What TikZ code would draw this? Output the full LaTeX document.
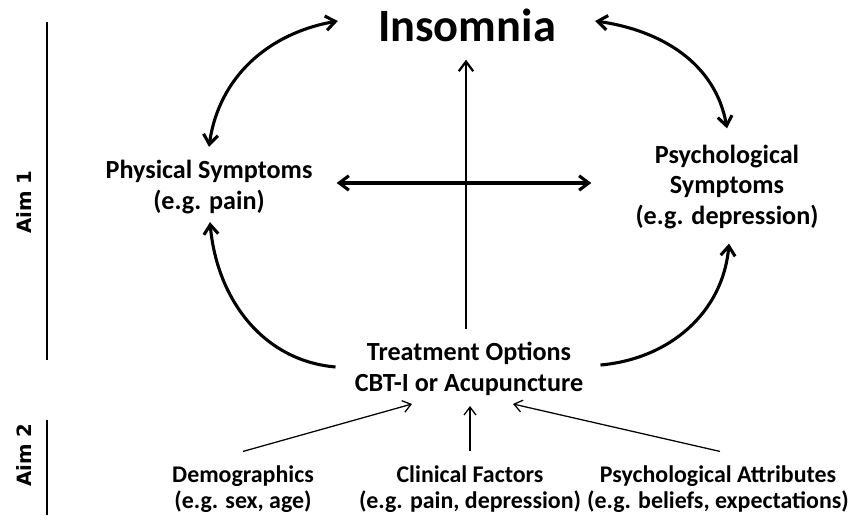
\documentclass[tikz,border=0pt]{standalone}
\usepackage{fontspec}
\setmainfont{Carlito}
\newfontfamily\aimfont{DejaVu Sans}
\usepackage{tikz}
\usetikzlibrary{
  arrows.meta,
  calc
}
\tikzset{
  title/.style={
    font=\bfseries\fontsize{33}{40}\selectfont,
    inner sep=0pt
  },
  concept/.style={
    font=\bfseries\fontsize{18.6}{22}\selectfont,
    align=center,
    inner sep=0pt
  },
  predictor/.style={
    font=\bfseries\fontsize{17}{18.3}\selectfont,
    align=center,
    inner sep=0pt
  },
  aimlabel/.style={
    font=\aimfont\bfseries\fontsize{14}{16}\selectfont,
    rotate=90,
    inner sep=0pt
  },
  aimbar/.style={
    line width=1.4pt
  },
  link/.style={
    {Straight Barb[length=2.4mm,width=3.6mm]}-{Straight Barb[length=2.4mm,width=3.6mm]},
    line width=2.2pt
  },
  effect/.style={
    -{Straight Barb[length=2.4mm,width=3.6mm]},
    line width=2.2pt
  },
  influence/.style={
    -{Straight Barb[length=2mm,width=3mm]},
    line width=0.9pt
  }
}
\begin{document}
\begin{tikzpicture}[x=0.025cm,y=0.025cm]

  \useasboundingbox (0,0) rectangle (849,525);

  % main concepts
  \node[title] (ins) at (467,500) {Insomnia};
  \node[concept] (phys) at (209,338) {
    Physical Symptoms\\
    (e.g. pain)
  };
  \node[concept] (psych) at (727,338) {
    Psychological\\
    Symptoms\\
    (e.g. depression)
  };
  \node[concept] (treat) at (469,156) {
    Treatment Options\\
    CBT-I or Acupuncture
  };

  % predictors
  \node[predictor] (demo) at (243,36) {
    Demographics\\
    (e.g. sex, age)
  };
  \node[predictor] (clin) at (470,36) {
    Clinical Factors\\
    (e.g. pain, depression)
  };
  \node[predictor] (attr) at (718,36) {
    Psychological Attributes\\
    (e.g. beliefs, expectations)
  };

  % aims
  \node[aimlabel] (aim1) at (24,323) {Aim 1};
  \node[aimlabel] (aim2) at (24,70) {Aim 2};
  \draw[aimbar] (47,503) -- (47,165);
  \draw[aimbar] (47,105) -- (47,10);

  % reciprocal links
  \draw[link]
    ($(phys.north)+(0,13)$) to[out=82,in=190]
    ($(ins.west)+(-40,4)$);
  \draw[link]
    ($(ins.east)+(39,4)$) to[out=-8,in=100]
    ($(psych.north)+(0,16)$);
  \draw[link]
    ($(phys.east)+(24,4)$) --
    ($(psych.west)+(-44,4)$);

  % treatment effects
  \draw[effect,line width=1.6pt]
    ($(treat.north)+(-3,13)$) --
    ($(ins.south)+(-1,-18)$);
  \draw[effect]
    ($(treat.west)+(-19,2)$) to[out=175,in=-85]
    ($(phys.south)+(1,-8)$);
  \draw[effect]
    ($(treat.east)+(17,4)$) to[out=5,in=-95]
    ($(psych.south)+(2,-14)$);

  % predictors of response
  \draw[influence]
    ($(demo.north)+(0,14)$) --
    ($(treat.south)+(-57,-8)$);
  \draw[influence]
    ($(clin.north)+(0,14)$) --
    ($(treat.south)+(1,-10)$);
  \draw[influence]
    ($(attr.north)+(2,14)$) --
    ($(treat.south)+(44,-8)$);

\end{tikzpicture}
\end{document}
